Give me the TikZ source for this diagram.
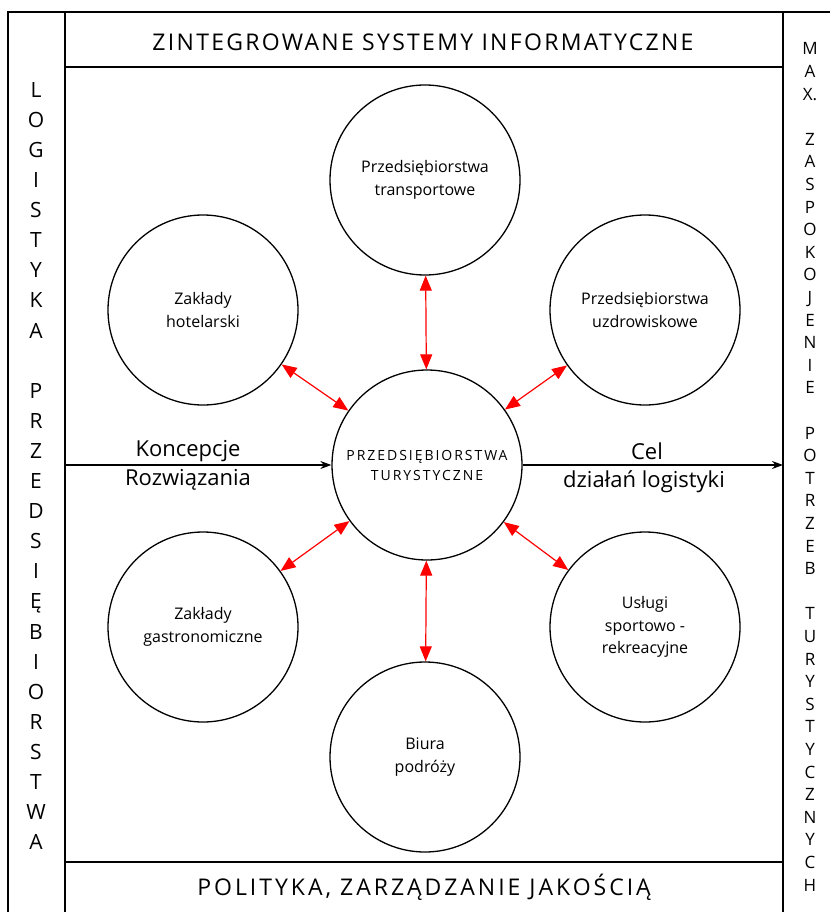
\documentclass[tikz,border=0pt]{standalone}
\usepackage{fontspec}
\setmainfont{Open Sans}
\newfontfamily\spaced[LetterSpace=10]{Open Sans}
\newfontfamily\spacedb[LetterSpace=13]{Open Sans}
\newfontfamily\spacedc[LetterSpace=14]{Open Sans}
\usetikzlibrary{arrows.meta}
\begin{document}
\begin{tikzpicture}[x=1pt,y=-1pt,
  frame/.style={line width=1.3pt, black},
  circ/.style={circle, draw, line width=1.3pt, minimum size=190pt, inner sep=0pt, align=center, font=\fontsize{16}{22.5}\selectfont},
  redarr/.style={draw=red, line width=1.2pt, {Triangle[length=15pt,width=12pt,fill=red]}-{Triangle[length=15pt,width=12pt,fill=red]}},
  blkarr/.style={line width=1.2pt, -{Stealth[length=11pt,width=8pt]}},
  lbl/.style={inner sep=0pt, font=\fontsize{22}{30}\selectfont},
  vcol/.style={inner sep=0pt, align=center}
]
\useasboundingbox (0,0) rectangle (830,912);
% frame
\draw[frame] (8,912) -- (8,12) -- (830,12);
\draw[frame] (65,12) -- (65,912);
\draw[frame] (783,12) -- (783,912);
\draw[frame] (65,67) -- (783,67);
\draw[frame] (65,862) -- (783,862);
% headers
\node[inner sep=0pt, font=\fontsize{23}{28}\spaced] (title) at (423,42) {ZINTEGROWANE SYSTEMY INFORMATYCZNE};
\node[inner sep=0pt, font=\fontsize{23}{28}\spacedb] (bottom) at (424,887) {POLITYKA, ZARZĄDZANIE JAKOŚCIĄ};
% side columns
\node[vcol, font=\fontsize{21}{30.1}\selectfont] (left) at (36,466) {L\\O\\G\\I\\S\\T\\Y\\K\\A\\[30.1pt]P\\R\\Z\\E\\D\\S\\I\\Ę\\B\\I\\O\\R\\S\\T\\W\\A};
\node[vcol, font=\fontsize{17}{22.6}\selectfont] (right) at (810,467) {M\\A\\X.\\[22.6pt]Z\\A\\S\\P\\O\\K\\O\\J\\E\\N\\I\\E\\[22.6pt]P\\O\\T\\R\\Z\\E\\B\\[22.6pt]T\\U\\R\\Y\\S\\T\\Y\\C\\Z\\N\\Y\\C\\H};
% circles
\node[circ, font=\fontsize{14}{20}\spacedc] (ctr) at (427,465) {PRZEDSIĘBIORSTWA\\TURYSTYCZNE};
\node[circ] (top) at (425,180) {Przedsiębiorstwa\\transportowe};
\node[circ] (tl) at (203,310) {Zakłady\\hotelarski};
\node[circ] (tr) at (645,310) {Przedsiębiorstwa\\uzdrowiskowe};
\node[circ] (bl) at (203,627) {Zakłady\\gastronomiczne};
\node[circ] (br) at (645,627) {Usługi\\sportowo -\\rekreacyjne};
\node[circ] (bot) at (425,757) {Biura\\podróży};
% red arrows
\draw[redarr] (ctr) -- (top);
\draw[redarr] (ctr) -- (tl);
\draw[redarr] (ctr) -- (tr);
\draw[redarr] (ctr) -- (bl);
\draw[redarr] (ctr) -- (br);
\draw[redarr] (ctr) -- (bot);
% horizontal arrows
\coordinate (lin) at (65,465);
\coordinate (rout) at (783,465);
\draw[blkarr] (lin) -- (ctr);
\draw[blkarr] (ctr) -- (rout);
\node[lbl] (k1) at (188,451) {Koncepcje};
\node[lbl] (k2) at (188,480) {Rozwiązania};
\node[lbl] (c1) at (647,451) {Cel};
\node[lbl] (c2) at (644,482) {działań logistyki};
\end{tikzpicture}
\end{document}
